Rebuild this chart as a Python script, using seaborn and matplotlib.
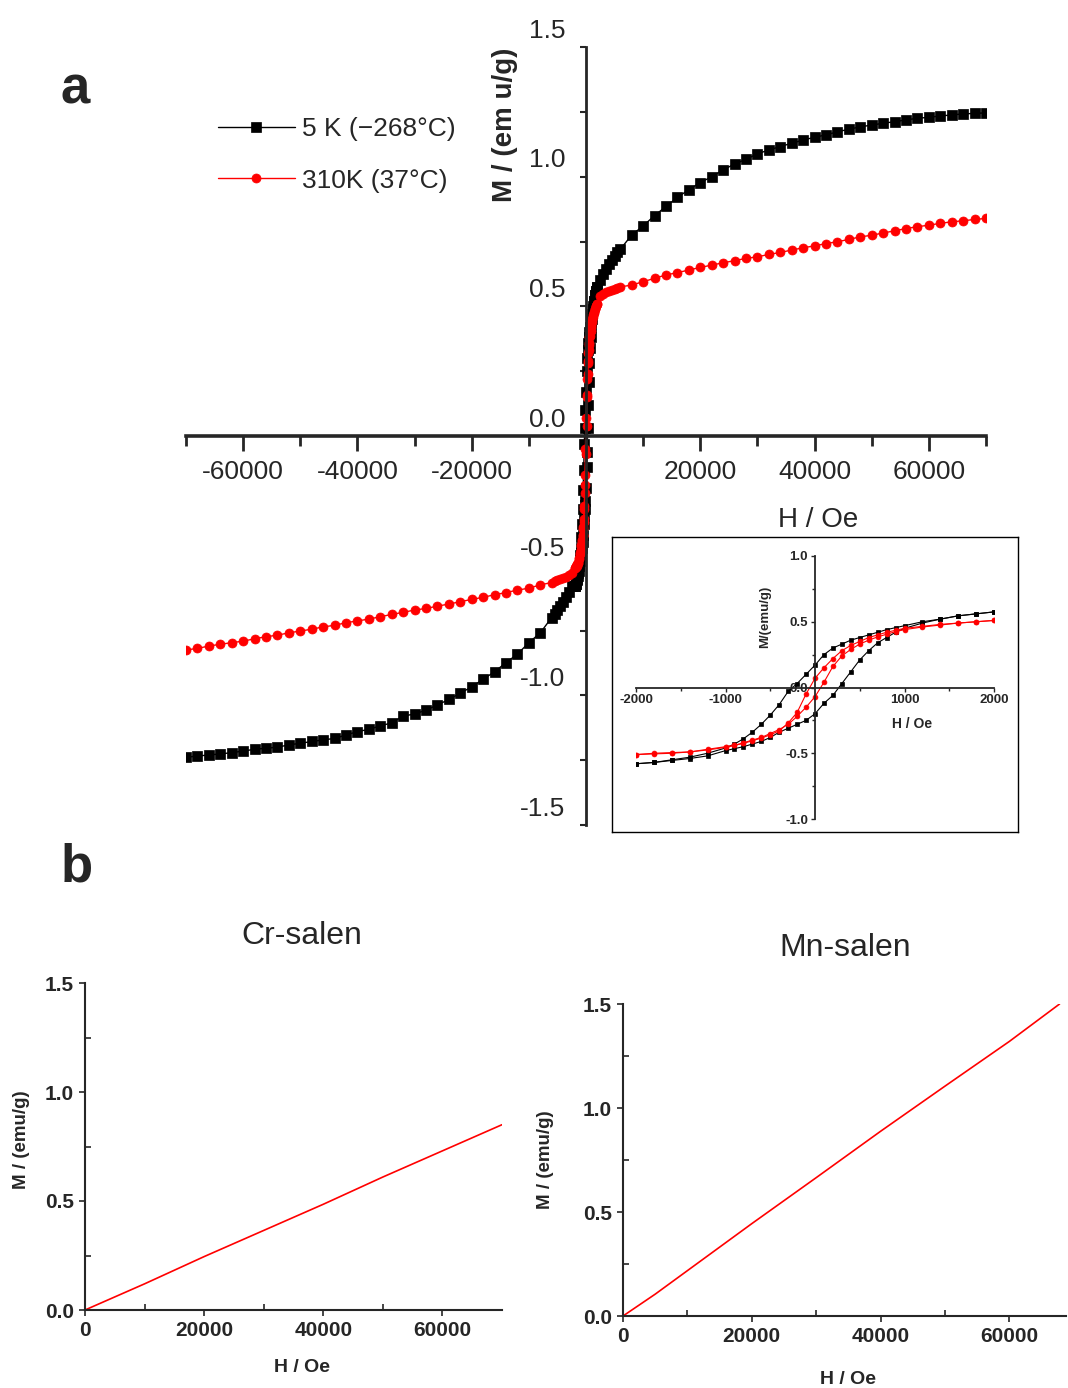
import matplotlib
matplotlib.use("Agg")
import numpy as np
import pandas as pd
import seaborn as sns
import matplotlib.pyplot as plt
from matplotlib.transforms import ScaledTranslation

# ---- panel a: high field points (Oe) ----
neg_h = [-70000, -68000, -66000, -64000, -62000, -60000, -58000, -56000, -54000, -52000,
         -50000, -48000, -46000, -44000, -42000, -40000, -38000, -36000, -34000, -32000,
         -30000, -28000, -26000, -24000, -22000, -20000, -18000, -16000, -14000, -12000,
         -10000, -8000]
pos_h = [8000, 10000, 12000, 14000, 16000, 18000, 20000, 22000, 24000, 26000,
         28000, 30000, 32000, 34000, 36000, 38000, 40000, 42000, 44000, 46000,
         48000, 50000, 52000, 54000, 56000, 58000, 60000, 62000, 64000, 66000,
         68000, 70000]
dense_neg_h = [-6000, -5500, -5000, -4500, -4000, -3500, -3000, -2500]
dense_pos_h = [2500, 3000, 3500, 4000, 4500, 5000, 5500, 6000]

# 5 K
k5_neg = [-1.239, -1.234, -1.230, -1.226, -1.221, -1.215, -1.208, -1.204, -1.200, -1.191,
          -1.185, -1.178, -1.172, -1.166, -1.153, -1.140, -1.131, -1.118, -1.106, -1.080,
          -1.072, -1.057, -1.037, -1.016, -0.992, -0.967, -0.938, -0.909, -0.874, -0.841,
          -0.797, -0.759]
k5_dense_neg = [-0.70, -0.685, -0.67, -0.655, -0.64, -0.62, -0.60, -0.58]
k5_dense_pos = [0.60, 0.625, 0.645, 0.665, 0.68, 0.695, 0.71, 0.72]
k5_pos = [0.775, 0.81, 0.85, 0.885, 0.92, 0.95, 0.977, 1.0, 1.026, 1.049,
          1.067, 1.088, 1.103, 1.116, 1.129, 1.141, 1.152, 1.161, 1.173, 1.183,
          1.192, 1.199, 1.206, 1.212, 1.219, 1.225, 1.229, 1.234, 1.238, 1.242,
          1.244, 1.246]

# 310 K
k310_neg = [-0.825, -0.819, -0.81, -0.803, -0.797, -0.791, -0.782, -0.774, -0.768, -0.759,
            -0.752, -0.745, -0.736, -0.73, -0.72, -0.713, -0.706, -0.697, -0.688, -0.68,
            -0.671, -0.665, -0.656, -0.648, -0.639, -0.63, -0.622, -0.612, -0.604, -0.594,
            -0.587, -0.574]
k310_dense_neg = [-0.565, -0.56, -0.556, -0.552, -0.548, -0.543, -0.537, -0.53]
k310_dense_pos = [0.54, 0.548, 0.554, 0.559, 0.563, 0.567, 0.571, 0.575]
k310_pos = [0.582, 0.595, 0.608, 0.621, 0.63, 0.64, 0.65, 0.659, 0.668, 0.676,
            0.685, 0.691, 0.70, 0.708, 0.717, 0.726, 0.733, 0.742, 0.749, 0.758,
            0.768, 0.774, 0.783, 0.791, 0.80, 0.807, 0.813, 0.82, 0.826, 0.83,
            0.835, 0.839]

# ---- low field loops (inset) ----
loop_h = [-2000, -1800, -1600, -1400, -1200, -1000, -900, -800, -700, -600, -500, -400,
          -300, -200, -100, 0, 100, 200, 300, 400, 500, 600, 700, 800, 900, 1000,
          1200, 1400, 1600, 1800, 2000]
k5_loop_dn = [-0.58, -0.57, -0.55, -0.53, -0.50, -0.46, -0.43, -0.39, -0.34, -0.28, -0.21, -0.13,
              -0.03, 0.03, 0.10, 0.17, 0.25, 0.30, 0.33, 0.36, 0.38, 0.40, 0.42, 0.44, 0.455, 0.47,
              0.50, 0.52, 0.545, 0.56, 0.575]
k5_loop_up = [-0.58, -0.57, -0.555, -0.54, -0.52, -0.48, -0.465, -0.45, -0.43, -0.41, -0.38, -0.34,
              -0.31, -0.28, -0.25, -0.20, -0.12, -0.06, 0.03, 0.12, 0.21, 0.28, 0.34, 0.38, 0.42, 0.45,
              0.49, 0.52, 0.545, 0.56, 0.575]
k310_loop_dn = [-0.51, -0.505, -0.50, -0.49, -0.475, -0.455, -0.44, -0.425, -0.405, -0.385, -0.36, -0.33,
                -0.27, -0.19, -0.05, 0.07, 0.15, 0.22, 0.28, 0.32, 0.35, 0.38, 0.40, 0.42, 0.435, 0.45,
                0.465, 0.48, 0.49, 0.50, 0.51]
k310_loop_up = [-0.51, -0.50, -0.495, -0.49, -0.47, -0.45, -0.44, -0.42, -0.40, -0.38, -0.35, -0.32,
                -0.28, -0.22, -0.15, -0.07, 0.04, 0.16, 0.24, 0.29, 0.33, 0.36, 0.385, 0.405, 0.425, 0.44,
                0.46, 0.475, 0.49, 0.50, 0.51]

# ---- panel b ----
cr_h = [0, 5000, 10000, 20000, 30000, 40000, 50000, 60000, 70000]
cr_m = [0.0, 0.06, 0.12, 0.245, 0.365, 0.485, 0.61, 0.73, 0.85]
mn_h = [0, 5000, 10000, 20000, 30000, 40000, 50000, 60000, 67800]
mn_m = [0.0, 0.105, 0.218, 0.444, 0.665, 0.888, 1.105, 1.32, 1.50]

legend_labels = ["5 K (\u2212268\u00b0C)", "310K (37\u00b0C)"]

sns.set_style("ticks")
plt.rcParams["font.family"] = ["Liberation Sans", "DejaVu Sans"]
plt.rcParams["axes.unicode_minus"] = False
MAIN_FS = 19

W, H = 1068, 1388
fig = plt.figure(figsize=(W / 100, H / 100), dpi=100)


def box(x0, y0, x1, y1):
    return [x0 / W, 1 - y1 / H, (x1 - x0) / W, (y1 - y0) / H]


def curve(ax, h, m, color, marker, ms, lw=1.0, label=None):
    sns.lineplot(x=h, y=m, sort=False, estimator=None, color=color, marker=marker,
                 markersize=ms, markeredgecolor=color, markeredgewidth=0.5,
                 linewidth=lw, label=label, legend=False, ax=ax)


# ================= panel a =================
ax = fig.add_axes(box(186, 47, 986, 825))
black_h = neg_h + dense_neg_h + loop_h + dense_pos_h + pos_h
black_m = k5_neg + k5_dense_neg + k5_loop_up + k5_dense_pos + k5_pos
red_h = neg_h + dense_neg_h + loop_h + dense_pos_h + pos_h
red_m = k310_neg + k310_dense_neg + k310_loop_up + k310_dense_pos + k310_pos
curve(ax, black_h, black_m, "black", "s", 6.5, label=legend_labels[0])
curve(ax, loop_h, k5_loop_dn, "black", "s", 6.5)
curve(ax, red_h, red_m, "#ff0000", "o", 6.5, label=legend_labels[1])
curve(ax, loop_h, k310_loop_dn, "#ff0000", "o", 6.5)

ax.set_xlim(-70000, 70000)
ax.set_ylim(-1.5, 1.5)
ax.set_xlabel("")
ax.set_ylabel("")
for s in ["top", "right"]:
    ax.spines[s].set_visible(False)
ax.spines["left"].set_position(("data", 0))
ax.spines["bottom"].set_position(("data", 0))
ax.spines["left"].set_linewidth(2)
ax.spines["bottom"].set_linewidth(2.6)
ax.set_xticks([-60000, -40000, -20000, 20000, 40000, 60000])
ax.set_xticks([-70000, -50000, -30000, -10000, 10000, 30000, 50000, 70000], minor=True)
ax.set_yticks([-1.5, -1.0, -0.5, 0.0, 0.5, 1.0, 1.5])
ax.set_yticks([-1.25, -0.75, -0.25, 0.25, 0.75, 1.25], minor=True)
ax.set_xticklabels(["-60000", "-40000", "-20000", "20000", "40000", "60000"])
ax.set_yticklabels(["-1.5", "-1.0", "-0.5", "0.0", "0.5", "1.0", "1.5"])
ax.tick_params(axis="x", which="major", direction="out", length=11, width=2, pad=6,
               labelsize=MAIN_FS)
ax.tick_params(axis="x", which="minor", direction="out", length=7, width=2)
ax.tick_params(axis="y", which="both", direction="out", length=4, width=1.5, pad=11,
               labelsize=MAIN_FS)
shift = ScaledTranslation(0, 19 / 100, fig.dpi_scale_trans)
for t in ax.get_yticklabels():
    t.set_transform(t.get_transform() + shift)

ax.legend(loc="upper left", bbox_to_anchor=(218 / W, 1 - 117 / H), bbox_transform=fig.transFigure,
          frameon=False, prop={"size": MAIN_FS}, handlelength=2.9,
          handletextpad=0.3, labelspacing=1.05, borderpad=0, borderaxespad=0)

fig.text(818 / W, 1 - 520 / H, "H / Oe", fontsize=MAIN_FS + 1, ha="center", va="center")
fig.text(505 / W, 1 - 125 / H, "M / (em u/g)", fontsize=MAIN_FS + 1, fontweight="bold",
         rotation=90, ha="center", va="center")
fig.text(61 / W, 1 - 103 / H, "a", fontsize=38, fontweight="bold", ha="left", va="baseline")
fig.text(61 / W, 1 - 882 / H, "b", fontsize=38, fontweight="bold", ha="left", va="baseline")

# inset frame
frame = fig.add_axes(box(612, 537, 1018, 832))
frame.set_xticks([])
frame.set_yticks([])
for s in frame.spines.values():
    s.set_visible(True)
    s.set_linewidth(1)
    s.set_color("black")

ins = fig.add_axes(box(636, 556, 994, 819))
ins.patch.set_alpha(0)
curve(ins, loop_h, k5_loop_dn, "black", "s", 3.5, lw=0.8)
curve(ins, loop_h, k5_loop_up, "black", "s", 3.5, lw=0.8)
curve(ins, loop_h, k310_loop_dn, "#ff0000", "o", 3.5, lw=0.8)
curve(ins, loop_h, k310_loop_up, "#ff0000", "o", 3.5, lw=0.8)
ins.set_xlim(-2000, 2000)
ins.set_ylim(-1, 1)
ins.set_xlabel("")
ins.set_ylabel("")
for s in ["top", "right"]:
    ins.spines[s].set_visible(False)
ins.spines["left"].set_position(("data", 0))
ins.spines["bottom"].set_position(("data", 0))
ins.spines["left"].set_linewidth(1.3)
ins.spines["bottom"].set_linewidth(1.3)
ins.set_xticks([-2000, -1000, 1000, 2000])
ins.set_xticks([-1500, -500, 500, 1500], minor=True)
ins.set_yticks([-1.0, -0.5, 0.0, 0.5, 1.0])
ins.set_yticks([-0.75, -0.25, 0.25, 0.75], minor=True)
ins.set_xticklabels(["-2000", "-1000", "1000", "2000"])
ins.set_yticklabels(["-1.0", "-0.5", "0.0", "0.5", "1.0"])
ins.tick_params(which="major", direction="out", length=3, width=1, pad=2, labelsize=9.5)
ins.tick_params(which="minor", direction="out", length=2, width=1)
for t in ins.get_xticklabels() + ins.get_yticklabels():
    t.set_fontweight("bold")
fig.text(765 / W, 1 - 617 / H, "M/(emu/g)", fontsize=9.5, fontweight="bold", rotation=90,
         ha="center", va="center")
fig.text(912 / W, 1 - 724 / H, "H / Oe", fontsize=10, fontweight="bold", ha="center", va="center")


# ================= panel b =================
def panel_b(rect, h, m, xmax, title, title_xy, xl_xy, yl_xy):
    a = fig.add_axes(box(*rect))
    sns.lineplot(x=h, y=m, sort=False, estimator=None, color="#ff0000", linewidth=1.2, ax=a)
    a.set_xlim(0, xmax)
    a.set_ylim(0, 1.5)
    a.set_xlabel("")
    a.set_ylabel("")
    for s in ["top", "right"]:
        a.spines[s].set_visible(False)
    for s in ["left", "bottom"]:
        a.spines[s].set_linewidth(1.5)
    a.set_xticks([0, 20000, 40000, 60000])
    a.set_xticks([10000, 30000, 50000], minor=True)
    a.set_yticks([0.0, 0.5, 1.0, 1.5])
    a.set_yticks([0.25, 0.75, 1.25], minor=True)
    a.set_yticklabels(["0.0", "0.5", "1.0", "1.5"])
    a.tick_params(which="major", direction="out", length=4, width=1.2, pad=4, labelsize=15)
    a.tick_params(which="minor", direction="in", length=4, width=1.2)
    for t in a.get_xticklabels() + a.get_yticklabels():
        t.set_fontweight("bold")
    fig.text(title_xy[0] / W, 1 - title_xy[1] / H, title, fontsize=23, ha="center", va="center")
    fig.text(xl_xy[0] / W, 1 - xl_xy[1] / H, "H / Oe", fontsize=14, fontweight="bold",
             ha="center", va="center")
    fig.text(yl_xy[0] / W, 1 - yl_xy[1] / H, "M / (emu/g)", fontsize=13.5, fontweight="bold",
             rotation=90, ha="center", va="center")
    return a


panel_b((85, 983, 502, 1310), cr_h, cr_m, 70000, "Cr-salen", (302, 936), (302, 1368), (22, 1140))
panel_b((623, 1004, 1066, 1316), mn_h, mn_m, 68800, "Mn-salen", (845, 948), (848, 1379), (545, 1160))

fig.savefig("out.png", dpi=100)
